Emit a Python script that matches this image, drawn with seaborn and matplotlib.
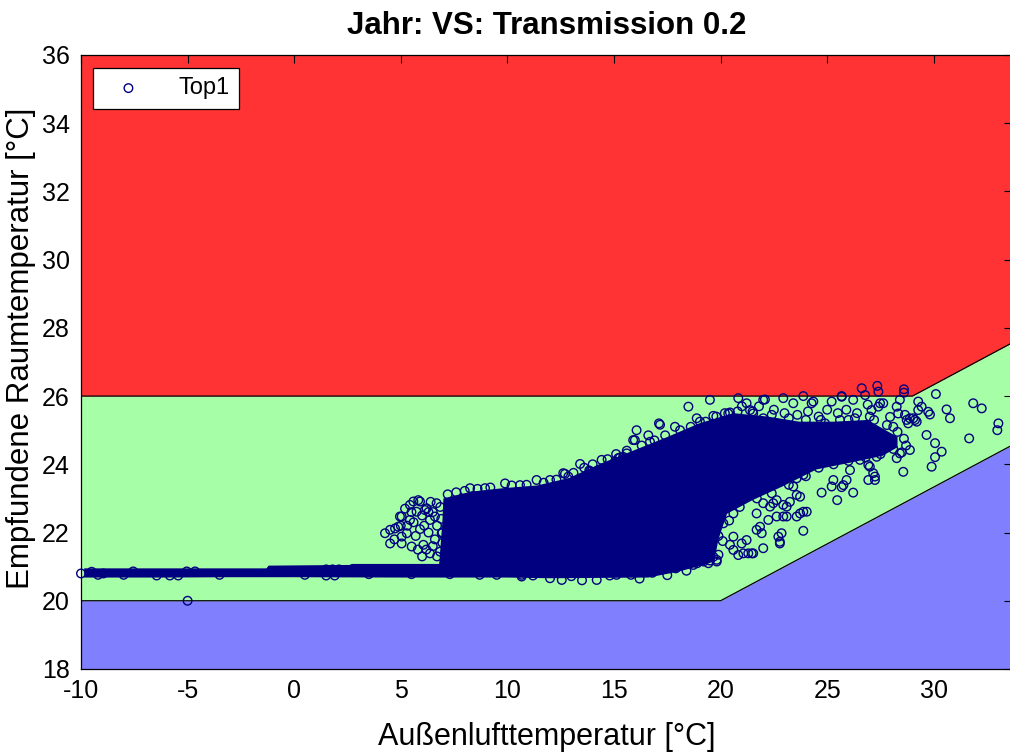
import numpy as np
import matplotlib
matplotlib.use("Agg")
import matplotlib.pyplot as plt
import seaborn as sns

sns.set_style("white")
plt.rcParams["font.family"] = ["Liberation Sans", "DejaVu Sans"]
plt.rcParams["axes.unicode_minus"] = False
for key in ("text.color", "axes.labelcolor", "xtick.color", "ytick.color"):
    plt.rcParams[key] = "black"

# comfort-band boundaries (outside air temperature vs. perceived room temperature)
bound_x = [-10, 20, 29, 33.7]
upper_lim = [26, 26, 26, 27.57]
lower_lim = [20, 20, 23, 24.57]

# saturated core of the hourly point cloud (where the markers merge into one area)
core_upper_x = [-9.85, -5, -1.3, -1.2, 2.6, 2.7, 6.8, 6.95, 7.0, 8.3, 9.8, 11.4, 12.9,
                14.3, 15.9, 17.5, 19.0, 20.6, 22.2, 23.7, 25.3, 26.9, 27.6, 28.3]
core_upper_y = [20.95, 20.95, 20.95, 21.03, 21.05, 21.08, 21.08, 22.3, 23.0, 23.2, 23.3,
                23.38, 23.6, 24.0, 24.4, 24.8, 25.2, 25.5, 25.4, 25.25, 25.25, 25.3, 25.05, 24.8]
core_lower_x = [-9.85, -6, -3, 0, 5, 10, 12, 16.6, 18, 19.2, 19.7, 19.9, 20.3, 21.5,
                22.9, 24.5, 26.1, 27.6, 28.3]
core_lower_y = [20.68, 20.68, 20.69, 20.69, 20.68, 20.68, 20.66, 20.68, 20.85, 21.05, 21.15,
                21.8, 22.55, 22.95, 23.35, 23.85, 24.05, 24.25, 24.5]

# individually visible hourly values (outside temperature, room temperature)
top1_x = [
    # mild-weather row and single cold hours
    -10.0, -9.5, -8.95, -7.55, -6.45, -5.83, -5.44, -5.04, -4.65, 1.5, 1.8, 2.1, 1.5, 1.9, -5.0,
    -9.2, -8.0, -3.5, 0.5, 3.5, 5.5, 7.3, 8.7, 9.5,
    # left end of the cloud
    4.26, 4.5, 4.73, 5.04, 5.04, 5.43, 5.28, 5.59, 5.9, 5.74, 6.21, 6.37, 6.68, 6.6, 5.51,
    6.06, 6.37, 6.84, 6.92, 7.15, 4.5, 4.88, 5.43, 5.82, 6.13, 5.04, 4.96, 5.9, 6.3, 6.6,
    5.7, 6.0, 6.5, 6.9, 6.3, 5.3,
    5.2, 5.6, 6.0, 6.4, 6.7, 6.2, 5.8, 6.7, 4.7, 5.0, 6.5, 6.85, 6.95, 6.95, 5.5, 6.1,
    # upper edge of the cloud
    7.2, 7.6, 8.0, 8.6, 9.2, 10.2, 10.9, 11.7, 12.3, 13.1, 13.6, 14.0, 14.7, 15.1, 15.6,
    16.3, 16.9, 17.4, 18.1, 18.6, 19.3, 19.8, 20.2, 20.8, 21.5, 22.4, 23.2, 24.0, 24.7,
    25.6, 26.3, 27.0, 27.8, 28.3, 28.6, 28.7, 28.5,
    8.25, 8.95, 9.89, 10.59, 11.37, 12.0, 12.62, 12.86, 13.41, 13.87, 14.42, 15.2, 12.7,
    13.84, 15.28, 15.6, 15.05, 15.43, 15.9, 16.06, 16.61, 16.69, 15.98, 17.16, 17.86, 17.11,
    18.49, 19.03, 19.5, 19.66, 18.88, 20.36, 20.44, 20.83, 21.22, 21.53, 21.38, 22.0, 22.0,
    22.63, 22.94, 23.41, 23.88, 24.35, 24.27, 25.21, 25.68, 26.22, 26.62, 26.78, 27.35,
    27.4, 27.63, 27.08, 27.4, 27.95, 28.33, 27.48, 28.6, 28.6, 28.41, 28.26, 28.1, 28.73,
    29.04, 29.2, 28.65, 28.88, 29.12, 28.8, 29.27, 29.27, 29.43, 29.74, 22.08, 25.68,
    23.0, 23.6, 24.1, 24.6, 25.0, 25.5, 25.9, 26.4, 26.9, 27.2, 26.0, 24.9, 22.5, 21.8, 21.0,
    # warm outliers right of the cloud
    30.1, 31.85, 32.25, 30.6, 30.76, 33.03, 32.98, 31.66, 29.66, 30.06, 30.37, 30.06, 29.9,
    29.82, 28.57, 28.88, 28.26, 28.41,
    # lower edge of the cloud
    10.67, 12.0, 12.55, 10.67, 14.19, 15.12, 13.5, 16.2, 17.5, 18.4,
    11.2, 13.0, 14.8, 15.8, 16.8, 17.9, 18.9, 19.5, 19.9, 20.1, 20.4, 20.9, 21.7, 22.4,
    23.2, 24.0, 24.6, 25.3, 26.0, 26.8, 27.5, 28.1,
    24.74, 25.47, 26.22, 25.21, 25.68, 26.93, 27.24, 27.16, 26.93, 26.54, 26.07, 25.76,
    25.29, 25.91, 27.24, 27.32, 27.0,
    23.88, 23.73, 24.04, 22.94, 23.57, 22.86, 22.78, 22.0, 21.53, 22.71, 23.41, 23.57,
    23.25, 22.63, 22.32, 22.94, 23.57, 23.88, 22.0, 21.69, 22.24, 21.85,
    22.78, 21.3, 20.83, 20.44, 21.22, 21.69, 21.93,
    19.82, 19.43, 18.72, 19.03, 19.66,
    23.1, 23.88, 22.63, 22.47, 23.1, 23.73,
    20.13, 20.6, 20.99, 21.46, 21.07, 20.6, 19.82, 19.2, 18.88, 18.41, 17.94, 17.16, 17.63,
    19.03, 19.43, 19.97, 20.6, 18.9, 19.3, 19.6, 18.6, 19.9, 20.3, 19.2,
]
top1_y = [
    20.8, 20.85, 20.8, 20.86, 20.74, 20.74, 20.74, 20.86, 20.86, 20.92, 20.92, 20.92, 20.74, 20.74, 20.0,
    20.76, 20.76, 20.76, 20.76, 20.78, 20.78, 20.78, 20.76, 20.76,
    21.98, 21.68, 22.12, 21.68, 22.47, 22.37, 21.98, 22.91, 22.91, 22.61, 22.71, 22.37, 22.86, 22.47, 21.59,
    21.64, 21.39, 21.44, 21.98, 21.59, 22.08, 22.17, 22.81, 22.95, 22.66, 21.88, 22.47, 22.1, 22.0, 21.8,
    21.9, 21.3, 21.6, 22.4, 22.6, 22.2,
    22.7, 22.3, 22.5, 22.9, 22.2, 21.5, 21.5, 21.3, 21.8, 22.2, 22.6, 22.75, 22.0, 21.7, 22.6, 22.2,
    23.12, 23.18, 23.22, 23.28, 23.32, 23.38, 23.4, 23.46, 23.55, 23.75, 23.9, 24.0, 24.15, 24.3, 24.4,
    24.55, 24.7, 24.85, 25.0, 25.1, 25.25, 25.4, 25.5, 25.55, 25.55, 25.45, 25.35, 25.3, 25.3,
    25.3, 25.35, 25.4, 25.15, 24.95, 24.75, 24.55, 24.35,
    23.3, 23.3, 23.44, 23.39, 23.54, 23.54, 23.74, 23.64, 24.01, 23.79, 24.13, 24.18, 23.72,
    23.82, 24.2, 24.32, 24.08, 24.22, 24.71, 25.0, 24.85, 24.66, 24.71, 25.16, 25.1, 25.2,
    25.69, 25.25, 25.89, 25.42, 25.35, 25.49, 25.52, 25.94, 25.79, 25.49, 25.59, 25.89, 25.35,
    25.2, 25.94, 25.79, 26.0, 25.84, 25.79, 25.84, 25.98, 25.89, 26.23, 26.03, 26.3,
    26.13, 25.79, 25.59, 25.69, 25.39, 25.49, 25.79, 26.1, 26.2, 25.89, 25.69, 25.1, 25.3,
    25.35, 25.25, 25.45, 25.35, 25.3, 25.2, 25.84, 25.59, 25.69, 25.54, 25.9, 26.0,
    25.5, 25.45, 25.55, 25.4, 25.6, 25.5, 25.6, 25.5, 25.75, 25.3, 25.3, 25.2, 25.6, 25.7, 25.7,
    26.06, 25.79, 25.64, 25.61, 25.35, 25.2, 25.0, 24.76, 24.86, 24.62, 24.37, 24.21, 23.93,
    25.46, 23.78, 24.42, 24.18, 24.32,
    20.71, 20.66, 20.61, 20.76, 20.61, 20.76, 20.6, 20.65, 20.75, 20.88,
    20.74, 20.72, 20.74, 20.76, 20.82, 20.95, 21.1, 21.18, 21.35, 21.75, 22.35, 22.75, 23.0,
    23.15, 23.4, 23.65, 23.9, 24.0, 24.1, 24.2, 24.3, 24.45,
    23.17, 22.95, 23.17, 23.35, 23.33, 23.54, 23.54, 23.74, 23.98, 24.13, 23.83, 23.39,
    23.54, 23.54, 23.64, 24.22, 23.93,
    22.05, 22.56, 22.61, 22.47, 22.47, 21.98, 21.73, 21.54, 21.39, 21.88, 23.35, 23.1,
    22.9, 22.95, 22.76, 22.81, 23.59, 23.69, 22.86, 22.56, 22.37, 22.17,
    21.68, 21.39, 21.34, 21.64, 21.78, 22.08, 21.98,
    21.15, 21.1, 21.05, 21.29, 21.29,
    22.47, 22.61, 22.47, 22.86, 22.76, 23.05,
    22.27, 21.88, 21.68, 21.39, 21.39, 21.49, 21.2, 21.15, 21.39, 21.49, 21.29, 21.29, 21.49,
    22.17, 22.56, 22.56, 22.56, 22.0, 21.8, 22.2, 22.4, 21.9, 22.9, 22.5,
]

RED = "#FF3333"
GREEN = "#A6FFA6"
BLUE = "#8080FF"
NAVY = "#000080"

fig = plt.figure(figsize=(10.10, 7.56), dpi=100)
ax = fig.add_axes([0.0802, 0.1151, 0.9218, 0.8122])

ymin, ymax = 18, 36
ax.fill_between(bound_x, upper_lim, ymax, color=RED, linewidth=0, zorder=0)
ax.fill_between(bound_x, lower_lim, upper_lim, color=GREEN, linewidth=0, zorder=0)
ax.fill_between(bound_x, ymin, lower_lim, color=BLUE, linewidth=0, zorder=0)
ax.plot(bound_x, upper_lim, color="black", linewidth=0.9, zorder=1)
ax.plot(bound_x, lower_lim, color="black", linewidth=0.9, zorder=1)

ax.fill(np.r_[core_upper_x, core_lower_x[::-1]], np.r_[core_upper_y, core_lower_y[::-1]],
        color=NAVY, linewidth=0, zorder=2)

sns.scatterplot(x=top1_x, y=top1_y, ax=ax, marker="o", s=38, facecolor="none",
                edgecolor=NAVY, linewidth=1.0, color=NAVY, label="Top1", zorder=3,
                clip_on=False)

ax.set_xlim(-10, 33.67)
ax.set_ylim(ymin, ymax)
ax.set_xticks(np.arange(-10, 31, 5))
ax.set_yticks(np.arange(18, 37, 2))
ax.tick_params(direction="in", top=True, right=True, length=6, width=0.8,
               labelsize=18, colors="black")
ax.tick_params(axis="x", pad=7)
ax.tick_params(axis="y", pad=8)
for sp in ax.spines.values():
    sp.set_color("black")
    sp.set_linewidth(0.9)

ax.set_xlabel("Außenlufttemperatur [°C]", fontsize=22)
ax.set_ylabel("Empfundene Raumtemperatur [°C]", fontsize=22.5)
ax.xaxis.set_label_coords(0.5, -0.086)
ax.yaxis.set_label_coords(-0.048, 0.523)
ax.set_title("Jahr: VS: Transmission 0.2", fontsize=22.5, fontweight="bold", pad=15)

leg = ax.legend(loc="upper left", bbox_to_anchor=(0.0129, 0.979), borderaxespad=0,
                fancybox=False, framealpha=1, edgecolor="black", fontsize=17,
                scatterpoints=1, handlelength=2.2, handletextpad=1.0,
                borderpad=0.4)
leg.get_frame().set_linewidth(0.9)

fig.savefig("out.png", dpi=100)
